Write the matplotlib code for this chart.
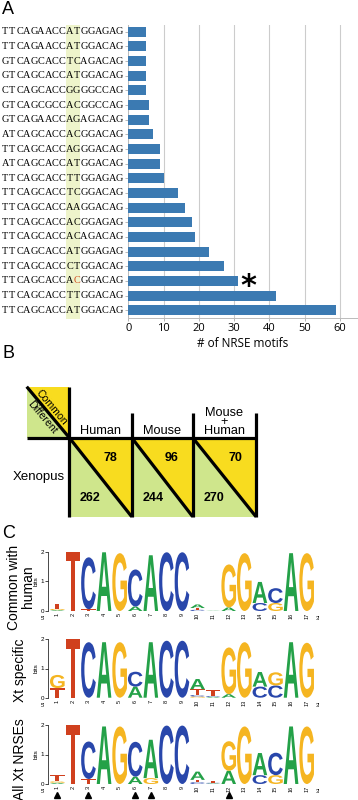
import matplotlib
matplotlib.use('Agg')
import matplotlib.pyplot as plt
import matplotlib.transforms as mtransforms
from matplotlib.textpath import TextPath
from matplotlib.font_manager import FontProperties
from matplotlib.patches import PathPatch, Polygon, Rectangle
import numpy as np

# ---------------- DATA ----------------
sequences = [
    "TTCAGAACCATGGAGAG", "TTCAGAACCATGGACAG", "GTCAGCACCTCAGACAG",
    "GTCAGCACCATGGACAG", "CTCAGCACCGGGGCCAG", "GTCAGCGCCACGGCCAG",
    "GTCAGAACCAGAGACAG", "ATCAGCACCACGGACAG", "TTCAGCACCAGGGACAG",
    "ATCAGCACCATGGACAG", "TTCAGCACCTTGGAGAG", "TTCAGCACCTCGGACAG",
    "TTCAGCACCAAGGACAG", "TTCAGCACCACGGAGAG", "TTCAGCACCACAGACAG",
    "TTCAGCACCATGGAGAG", "TTCAGCACCCTGGACAG", "TTCAGCACCACGGACAG",
    "TTCAGCACCTTGGACAG", "TTCAGCACCATGGACAG",
]
nrse_counts = [5, 5, 5, 5, 5, 6, 6, 7, 9, 9, 10, 14, 16, 18, 19, 23, 27, 31, 42, 59]
count_ticks = [0, 10, 20, 30, 40, 50, 60]
starred_row = 17
red_row, red_col = 17, 10

table_columns = ["Human", "Mouse", "Mouse\n+\nHuman"]
common_counts = [78, 96, 70]
different_counts = [262, 244, 270]

positions = list(range(1, 18))
# logo heights in bits, per nucleotide, positions 1..17
common_A = [0.03, 0, 0, 1.98, 0, 0.15, 1.88, 0, 0, 0.12, 0.01, 0.12, 0, 0.71, 0, 1.95, 0]
common_C = [0, 0, 1.75, 0, 0, 1.25, 0, 1.98, 1.98, 0.04, 0, 0, 0, 0.27, 0.50, 0, 0]
common_G = [0.04, 0, 0, 0, 1.95, 0, 0, 0, 0, 0, 0, 1.45, 1.95, 0, 0.27, 0, 1.95]
common_T = [0.18, 2.0, 0.06, 0, 0, 0, 0, 0, 0, 0.06, 0, 0, 0, 0, 0, 0, 0]

xt_A = [0, 0, 0, 1.90, 0, 0.38, 1.90, 0, 0, 0.35, 0.03, 0.12, 0, 0.50, 0, 1.90, 0]
xt_C = [0, 0, 1.90, 0, 0, 0.51, 0, 1.95, 1.95, 0.05, 0.03, 0, 0, 0.38, 0.42, 0, 0]
xt_G = [0.45, 0, 0, 0, 1.90, 0, 0, 0, 0, 0.04, 0, 1.60, 1.90, 0, 0.45, 0, 1.88]
xt_T = [0.33, 2.0, 0, 0, 0, 0, 0, 0, 0, 0.20, 0.20, 0, 0, 0, 0, 0, 0]

all_A = [0.04, 0, 0, 1.95, 0, 0.25, 1.30, 0, 0, 0.28, 0.02, 0.45, 0, 0.75, 0, 1.95, 0]
all_C = [0, 0, 1.27, 0, 0, 1.18, 0, 1.98, 1.98, 0.06, 0.02, 0, 0, 0.30, 0.76, 0, 0]
all_G = [0.05, 0, 0, 0, 1.95, 0, 0.20, 0, 0, 0, 0, 1.00, 1.95, 0, 0.30, 0, 1.95]
all_T = [0.20, 2.0, 0.17, 0, 0, 0, 0, 0, 0, 0.08, 0.06, 0, 0, 0, 0, 0, 0]

logo_titles = ["Common with\nhuman", "Xt specific", "All Xt NRSEs"]
arrow_positions = [1, 3, 6, 7, 12]

# ---------------- STYLE ----------------
W, H = 358, 800
fig = plt.figure(figsize=(W / 100, H / 100), dpi=100)
SANS = 'Liberation Sans'
bar_color = '#3b7ab2'
yellow = '#f8dc1f'
green = '#cfe68c'
letter_colors = {'A': '#24a148', 'C': '#2947ab', 'G': '#f5b521', 'T': '#d0401e'}


def ax_px(l, t, r, b):
    return fig.add_axes([l / W, 1 - b / H, (r - l) / W, (b - t) / H])


ov = fig.add_axes([0, 0, 1, 1])
ov.set_xlim(0, W)
ov.set_ylim(H, 0)
ov.axis('off')

# panel letters
for lab, (x, y) in zip("ABC", [(8, 9), (8, 353), (9, 533)]):
    ov.text(x, y, lab, fontsize=13, family=SANS, ha='center', va='center')

# ---------------- PANEL A ----------------
axA = ax_px(128.3, 25, 357.6, 318.3)
ypos = np.arange(len(nrse_counts))
axA.barh(ypos, nrse_counts, height=0.68, color=bar_color, zorder=3)
axA.set_ylim(len(nrse_counts) - 0.45, -0.46)
axA.set_xlim(0, 65)
axA.set_xticks(count_ticks)
axA.set_xticklabels([str(t) for t in count_ticks], fontsize=8, family='Open Sans')
axA.set_yticks(ypos)
axA.set_yticklabels([])
axA.tick_params(axis='y', length=2, color='#aaaaaa', width=0.6)
axA.tick_params(axis='x', length=2, color='#aaaaaa', width=0.6, pad=1.5)
axA.xaxis.grid(True, color='#cccccc', lw=0.8, zorder=0)
axA.set_axisbelow(True)
axA.spines['top'].set_visible(False)
for s in ['left', 'bottom', 'right']:
    axA.spines[s].set_color('#bbbbbb')
    axA.spines[s].set_linewidth(0.7)
axA.set_xlabel('# of NRSE motifs', fontsize=8.5, family='Open Sans', labelpad=2)
axA.text(nrse_counts[starred_row] + 0.9, starred_row + 0.35, '*', fontsize=22,
         fontweight='bold', ha='left', va='center', family='DejaVu Sans')

trans_seq = mtransforms.blended_transform_factory(ov.transData, axA.transData)
x0, cw = 1.7, 7.15
ov.add_patch(Rectangle((x0 + cw * 9, -0.47), cw * 2, len(sequences) + 0.1,
                       transform=trans_seq, facecolor='#eef4cb', edgecolor='none', zorder=0))
for r, s in enumerate(sequences):
    for c, ch in enumerate(s):
        col = '#d04a1c' if (r == red_row and c == red_col) else 'black'
        ov.text(x0 + cw * (c + 0.5), r, ch, transform=trans_seq, ha='center', va='center',
                fontsize=7.4, family='Liberation Serif', color=col, zorder=2)

# ---------------- PANEL B ----------------
lw = 2.3
cl, ct = 26.7, 386.7          # corner square left/top
vx = 69.3                     # main vertical line
hy = 437.7                    # header line
by = 516.7                    # bottom
col_edges = [69.3, 131.7, 192.7, 256.0]
top_cols = 412.7

ov.add_patch(Polygon([(cl, ct), (vx, ct), (vx, hy)], closed=True, facecolor=yellow, edgecolor='none'))
ov.add_patch(Polygon([(cl, ct), (cl, hy), (vx, hy)], closed=True, facecolor=green, edgecolor='none'))
for i in range(3):
    l, r = col_edges[i], col_edges[i + 1]
    ov.add_patch(Polygon([(l, hy), (r, hy), (r, by)], closed=True, facecolor=yellow, edgecolor='none'))
    ov.add_patch(Polygon([(l, hy), (l, by), (r, by)], closed=True, facecolor=green, edgecolor='none'))
    ov.plot([l, r], [hy, by], color='black', lw=lw, solid_capstyle='butt')
    cx = (l + r) / 2
    ov.text(r - 21, 458, str(common_counts[i]), fontsize=9, fontweight='bold', family=SANS,
            ha='center', va='center')
    ov.text(l + 21, 497.7, str(different_counts[i]), fontsize=9, fontweight='bold', family=SANS,
            ha='center', va='center')
    ov.text(cx, 434.5, table_columns[i], fontsize=9.2, family=SANS, ha='center',
            va='baseline', multialignment='center', linespacing=0.72)

ov.plot([cl, vx], [ct, hy], color='black', lw=lw, solid_capstyle='butt')
ov.plot([vx, vx], [ct, by], color='black', lw=lw, solid_capstyle='butt')
ov.plot([cl, col_edges[-1] + 0.8], [hy, hy], color='black', lw=lw, solid_capstyle='butt')
for x in col_edges[1:]:
    ov.plot([x, x], [top_cols, by], color='black', lw=lw, solid_capstyle='butt')

ov.text(51.5, 407.5, 'Common', rotation=-50, fontsize=7.6, family=SANS, ha='center',
        va='center', rotation_mode='anchor')
ov.text(42.0, 417.5, 'Different', rotation=-50, fontsize=7.6, family=SANS, ha='center',
        va='center', rotation_mode='anchor')
ov.text(39, 477, 'Xenopus', fontsize=9.5, family=SANS, ha='center', va='center')

# ---------------- PANEL C ----------------
fp_logo = FontProperties(family=SANS, weight='bold')


def draw_letter(ax, ch, x, y, w, h):
    tp = TextPath((0, 0), ch, size=1, prop=fp_logo)
    bb = tp.get_extents()
    tr = (mtransforms.Affine2D().translate(-bb.x0, -bb.y0)
          .scale(w / bb.width, h / bb.height).translate(x - w / 2, y))
    ax.add_patch(PathPatch(tr.transform_path(tp), facecolor=letter_colors[ch],
                           edgecolor='none', clip_on=False))


def draw_logo(ax, heights):
    for i, p in enumerate(positions):
        stack = sorted([(heights[b][i], b) for b in 'ACGT' if heights[b][i] > 0])
        y = 0
        for h, b in stack:
            draw_letter(ax, b, p, y, 0.94, h)
            y += h
    ax.set_xlim(0.423, 17.6)
    ax.set_ylim(0, 2)
    ax.set_yticks([0, 1, 2])
    ax.set_yticklabels(['0', '1', '2'], fontsize=4.5, family=SANS)
    ax.set_xticks(positions)
    ax.set_xticklabels([str(p) for p in positions], fontsize=4, rotation=90, family=SANS)
    ax.tick_params(axis='x', length=0, pad=1.5)
    ax.tick_params(axis='y', length=2, width=0.5, pad=1)
    for s in ['top', 'right', 'bottom']:
        ax.spines[s].set_visible(False)
    ax.spines['left'].set_linewidth(0.5)
    ax.set_ylabel('bits', fontsize=4.5, family=SANS, labelpad=1.5)
    tb = mtransforms.blended_transform_factory(ax.transData, ax.transAxes)
    ax.text(0.1, -0.13, "5'", transform=tb, fontsize=4, family=SANS, ha='center', va='center')
    ax.text(17.72, -0.13, "3'", transform=tb, fontsize=4, family=SANS, ha='center', va='center')


logo_data = [
    {'A': common_A, 'C': common_C, 'G': common_G, 'T': common_T},
    {'A': xt_A, 'C': xt_C, 'G': xt_G, 'T': xt_T},
    {'A': all_A, 'C': all_C, 'G': all_G, 'T': all_T},
]
logo_boxes = [(551.7, 611.0), (639.3, 697.7), (725.0, 784.0)]
title_y = [587, 670, 759]
logo_axes = []
for d, (t, b), title, ty in zip(logo_data, logo_boxes, logo_titles, title_y):
    ax = ax_px(48.3, t, 316, b)
    draw_logo(ax, d)
    logo_axes.append(ax)
    ov.text(20 if '\n' not in title else 21, ty, title, rotation=90, fontsize=10,
            family=SANS, ha='center', va='center', linespacing=0.95)

axL = logo_axes[2]
axL.plot(arrow_positions, [-0.37] * len(arrow_positions), linestyle='none', marker='^',
         markersize=5, color='black', clip_on=False)

fig.savefig('out.png', dpi=100)
